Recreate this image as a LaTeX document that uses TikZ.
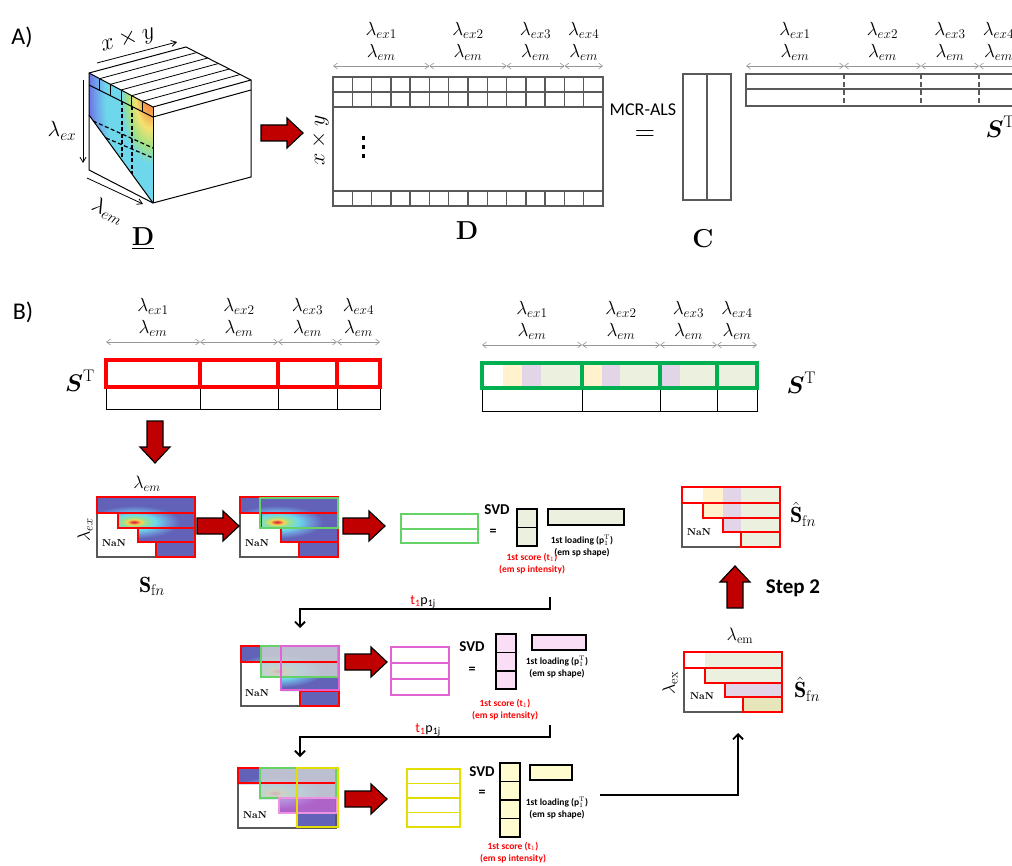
\RequirePackage{fix-cm}
\documentclass[tikz,border=0pt]{standalone}
\usepackage{amsmath}
\usepackage{fontspec}
\newfontfamily\calibri{Carlito}
\usetikzlibrary{arrows.meta, calc}

\definecolor{arrowred}{RGB}{192,0,0}
\definecolor{matgray}{RGB}{89,89,89}
\definecolor{dimgray}{RGB}{150,150,150}
\definecolor{specblue}{RGB}{98,98,184}
\definecolor{fnred}{RGB}{255,0,0}
\definecolor{fngreen}{RGB}{100,210,100}
\definecolor{stgreen}{RGB}{0,176,80}
\definecolor{fnmagenta}{RGB}{226,100,212}
\definecolor{fnyellow}{RGB}{228,222,0}
\definecolor{lgreen}{RGB}{235,241,222}
\definecolor{lyellow}{RGB}{255,242,204}
\definecolor{lpurple}{RGB}{225,213,231}
\definecolor{lpink}{RGB}{250,222,245}
\definecolor{lcream}{RGB}{255,252,208}
\definecolor{lolive}{RGB}{230,230,186}
\definecolor{veilgray}{RGB}{204,208,212}
% heat map colours
\definecolor{heatcore}{RGB}{200,40,40}
\definecolor{heatred}{RGB}{235,90,70}
\definecolor{heatyellow}{RGB}{245,215,80}
\definecolor{heatgreen}{RGB}{150,225,150}
\definecolor{heatcyan}{RGB}{110,215,235}
\definecolor{heatlblue}{RGB}{110,150,215}
\definecolor{cmorange}{RGB}{245,150,70}
\definecolor{cmyellow}{RGB}{245,225,110}
\definecolor{cmgreen}{RGB}{165,225,130}
\definecolor{cmcyan}{RGB}{110,215,235}
\definecolor{cmlblue}{RGB}{110,160,235}
\definecolor{cmblue}{RGB}{110,110,230}

% the inner 25bp of a radial shading fills the shaded path
\pgfdeclareradialshading{heatspot}{\pgfpoint{0bp}{0bp}}{%
  color(0bp)=(heatcore); color(1.5bp)=(heatred); color(3.5bp)=(heatyellow);
  color(6bp)=(heatgreen); color(11bp)=(heatcyan); color(17bp)=(heatlblue);
  color(23bp)=(specblue); color(50bp)=(specblue)}
\pgfdeclareradialshading{cubemap}{\pgfpoint{0bp}{0bp}}{%
  color(0bp)=(cmorange); color(3bp)=(cmorange); color(6bp)=(cmyellow);
  color(9bp)=(cmgreen); color(12bp)=(cmcyan); color(18bp)=(cmcyan);
  color(22bp)=(cmlblue); color(25bp)=(cmblue); color(50bp)=(cmblue)}

\begin{document}
\begin{tikzpicture}[x=1pt, y=-1pt, font=\calibri,
    lam/.style={font=\fontsize{19}{22}\selectfont, align=center, inner sep=1pt, anchor=south},
    dimline/.style={draw=dimgray, line width=0.6pt,
        {Straight Barb[length=4pt,width=6pt]}-{Straight Barb[length=4pt,width=6pt]}},
    matline/.style={draw=matgray, line width=1.5pt},
    cubeline/.style={draw=black, line width=1pt},
    slicedash/.style={draw=black, line width=1.2pt, dash pattern=on 4pt off 2.5pt},
    bigname/.style={font=\rmfamily\bfseries\fontsize{26}{30}\selectfont},
    mathname/.style={font=\fontsize{24}{28}\selectfont},
    panel/.style={font=\calibri\fontsize{24}{28}\selectfont},
    fnrow/.style={draw=fnred, line width=1.5pt},
    fnbox/.style={draw=matgray, line width=1.2pt},
    nan/.style={font=\rmfamily\bfseries\fontsize{10}{12}\selectfont},
    svdtxt/.style={font=\calibri\bfseries\fontsize{15}{17}\selectfont},
    eqtxt/.style={font=\calibri\bfseries\fontsize{14}{16}\selectfont},
    smalltxt/.style={font=\calibri\bfseries\fontsize{9.5}{12}\selectfont, align=center, inner sep=0pt},
    svdbox/.style={draw=black, line width=1.6pt},
    loopline/.style={draw=black, line width=1.8pt, -{Straight Barb[length=5pt,width=10pt]}},
    tplabel/.style={font=\calibri\fontsize{14}{16}\selectfont, anchor=south, inner sep=1pt},
    blockarrow/.pic={\draw[black, line width=1.2pt, fill=arrowred, line join=miter]
        (-21,-8) -- (5,-8) -- (5,-15) -- (21,0) -- (5,15) -- (5,8) -- (-21,8) -- cycle;}
]

\fill[white] (0,0) rectangle (1012,866);
\useasboundingbox (0,0) rectangle (1012,866);

% === A) DATA CUBE ===
\node[panel] (pa) at (22,37) {A)};

\coordinate (cA) at (89,73);
\coordinate (cB) at (186,47);
\coordinate (cC) at (251,80);
\coordinate (cE) at (153,107);
\coordinate (cF) at (153,203);
\coordinate (cG) at (251,177);
\coordinate (cH) at (89,170);
\coordinate (cS) at (89,115);
\coordinate (cA2) at (89,85);
\coordinate (cE2) at (153,117);
\coordinate (cC2) at (251,90);

% colour map on the front slice
\begin{scope}
  \clip (cA) -- (cE) -- (cF) -- (cS) -- cycle;
  \shade[shading=cubemap] (88,-58) rectangle (212,242);
\end{scope}

\draw[cubeline] (cA) -- (cB) -- (cC) -- (cG) -- (cF) -- (cH) -- cycle;
\draw[cubeline] (cA) -- (cE) -- (cC);
\draw[cubeline] (cE) -- (cF);
\draw[cubeline] (cS) -- (cF);
\draw[cubeline] (cA2) -- (cE2) -- (cC2);
\foreach \t in {0.1667,0.3333,0.5,0.6667,0.8333}{
  \draw[black, line width=0.8pt] ($(cA)!\t!(cE)$) -- ($(cB)!\t!(cC)$);
  \draw[black, line width=0.8pt] ($(cA)!\t!(cE)$) -- ($(cA2)!\t!(cE2)$);
}

% slices through the cube
\draw[slicedash] (122,101.5) -- (122,160);
\draw[slicedash] (132,106.5) -- (132,174);
\draw[slicedash] (93,121) -- (153,148);
\draw[slicedash] (106,138) -- (153,158);

\draw[black, line width=0.8pt, -{Straight Barb[length=5pt,width=6pt]}] (97,63) -- (177,42);
\draw[black, line width=0.8pt, -{Straight Barb[length=5pt,width=6pt]}] (83,80) -- (83,163);
\draw[black, line width=0.8pt, -{Straight Barb[length=5pt,width=6pt]}] (87,178) -- (143,204);
\node[rotate=15, font=\fontsize{24}{26}\selectfont] (cxy) at (128,40) {$x\times y$};
\node[font=\fontsize{22}{24}\selectfont] (cex) at (62,131) {$\lambda_{ex}$};
\node[rotate=-25, inner sep=0pt, font=\fontsize{22}{24}\selectfont] (cem) at (108,211) {$\lambda_{em}$};
\node[bigname] (cubename) at (143,239) {\underline{D}};

\pic at (282,133) {blockarrow};

% === A) UNFOLDED MATRIX ===
\draw[matline] (333,77) rectangle (603,206);
\draw[matline] (333,92) -- (603,92);
\draw[matline] (333,107) -- (603,107);
\draw[matline] (333,191) -- (603,191);
\foreach \i in {1,...,13}{
  \draw[matline] (333+\i*19.286,77) -- (333+\i*19.286,107);
  \draw[matline] (333+\i*19.286,191) -- (333+\i*19.286,206);
}
\foreach \n/\xa/\xb in {1/333/429.4, 2/429.4/506.6, 3/506.6/564.5, 4/564.5/603}{
  \draw[dimline] (\xa,66) -- (\xb,66);
  \node[lam] (dlab\n) at ({(\xa+\xb)/2},62) {$\lambda_{ex\n}$\\$\lambda_{em}$};
}
\node[rotate=90, font=\fontsize{22}{24}\selectfont] (dxy) at (320,140) {$x\times y$};
% skipped rows
\foreach \yd in {138,147,156}
  \fill[black] (361.5,\yd-1.6) rectangle (364.5,\yd+1.6);
\node[bigname] (dname) at (467,231) {D};

\node[font=\calibri\fontsize{18}{20}\selectfont] (mcr) at (643,110) {MCR-ALS};
\node[font=\fontsize{28}{30}\selectfont] (equal) at (645,136) {$=$};

% === A) C AND S^T ===
\draw[matline] (683,74) rectangle (731,200);
\draw[matline] (707,74) -- (707,200);
\node[bigname] (cname) at (703,239) {C};

\draw[matline] (746,74) rectangle (1018,106);
\draw[matline] (746,89) -- (1018,89);
\foreach \xd in {844,921,979}
  \draw[matgray, line width=1.5pt, dash pattern=on 5pt off 3pt] (\xd,74) -- (\xd,106);
\foreach \n/\xa/\xb in {1/746/844, 2/844/921, 3/921/979, 4/979/1018}{
  \draw[dimline] (\xa,66) -- (\xb,66);
  \node[lam] (slab\n) at ({(\xa+\xb)/2},62) {$\lambda_{ex\n}$\\$\lambda_{em}$};
}
\node[mathname, anchor=west] (sta) at (982,127) {$\boldsymbol{S}^{\mathrm{T}}$};

% === B) S^T WITH FIRST ROW ===
\node[panel] (pb) at (23,312) {B)};

\foreach \n/\xa/\xb in {1/106/200, 2/200/278, 3/278/337, 4/337/380}{
  \draw[dimline] (\xa,342) -- (\xb,342);
  \node[lam] (blab\n) at ({(\xa+\xb)/2},338) {$\lambda_{ex\n}$\\$\lambda_{em}$};
}
\draw[black, line width=1pt] (106,387) rectangle (380,410);
\foreach \xd in {200,278,337}
  \draw[black, line width=1pt] (\xd,387) -- (\xd,410);
\draw[fnred, line width=3.5pt] (106,360) rectangle (380,387);
\foreach \xd in {200,278,337}
  \draw[fnred, line width=3.5pt] (\xd,360) -- (\xd,387);
\node[mathname] (stb) at (80,381) {$\boldsymbol{S}^{\mathrm{T}}$};

\pic[rotate=-90] at (155,442) {blockarrow};

% === B) RECONSTRUCTED S^T ===
\foreach \n/\xa/\xb in {1/482/582, 2/582/660, 3/660/717, 4/717/757}{
  \draw[dimline] (\xa,345) -- (\xb,345);
  \node[lam] (clab\n) at ({(\xa+\xb)/2},341) {$\lambda_{ex\n}$\\$\lambda_{em}$};
}
\foreach \xa/\xb/\c in {503/522/lyellow, 522/541/lpurple, 541/582/lgreen,
    582/602/lyellow, 602/620/lpurple, 620/660/lgreen,
    660/680/lpurple, 680/717/lgreen, 717/757/lgreen}
  \fill[\c] (\xa,363) rectangle (\xb,388);
\draw[black, line width=1pt] (482,388) rectangle (757,412);
\foreach \xd in {582,660,717}
  \draw[black, line width=1pt] (\xd,388) -- (\xd,412);
\draw[stgreen, line width=3.5pt] (482,363) rectangle (757,388);
\foreach \xd in {582,660,717}
  \draw[stgreen, line width=3.5pt] (\xd,363) -- (\xd,388);
\node[mathname, anchor=west] (stc) at (783,383) {$\boldsymbol{S}^{\mathrm{T}}$};

% === B) FOLDED SPECTRA (heat maps) ===
\foreach \ox/\oy in {97/497, 240/497, 241/646, 238/768}{
  \begin{scope}[shift={(\ox,\oy)}]
    \fill[white] (0,0) rectangle (98,60);
    \begin{scope}
      \clip (0,0) -- (98,0) -- (98,60) -- (59,60) -- (59,45) -- (41,45) -- (41,31)
        -- (21,31) -- (21,16) -- (0,16) -- cycle;
      \fill[specblue] (0,0) rectangle (98,60);
      \shade[shading=heatspot] (-13,7) rectangle (87,43);
    \end{scope}
    \draw[fnbox] (0,0) rectangle (98,60);
  \end{scope}
}

% first map: all four rows
\begin{scope}[shift={(97,497)}]
  \foreach \xa/\ya/\yb in {0/0/16, 21/16/31, 41/31/45, 59/45/60}
    \draw[fnrow] (\xa,\ya) rectangle (98,\yb);
  \node[nan] (nan1) at (17,46) {NaN};
\end{scope}
\node[font=\fontsize{18}{20}\selectfont] (fnem) at (147,484) {$\lambda_{em}$};
\node[rotate=90, font=\fontsize{18}{20}\selectfont] (fnex) at (85,530) {$\lambda_{ex}$};
\node[font=\fontsize{22}{24}\selectfont] (sfn) at (152,586) {$\mathbf{S}_{\mathrm{f}n}$};

\pic at (218,526) {blockarrow};

% second map: first two rows picked
\begin{scope}[shift={(240,497)}]
  \foreach \xa/\ya/\yb in {0/0/16, 21/16/31, 41/31/45, 59/45/60}
    \draw[fnrow] (\xa,\ya) rectangle (98,\yb);
  \draw[fngreen, line width=1.8pt] (20,1) rectangle (98,31);
  \node[nan] (nan2) at (17,46) {NaN};
\end{scope}

\pic at (364,526) {blockarrow};

% === B) SVD, TWO ROWS ===
\draw[fngreen, line width=1.8pt] (401,514) rectangle (478,543);
\draw[fngreen, line width=1.8pt] (401,529) -- (478,529);
\node[svdtxt] (svd1) at (497,510) {SVD};
\node[eqtxt] (eq1) at (493,532) {=};
\draw[svdbox, fill=lgreen] (517,509) rectangle (537,546);
\draw[svdbox] (517,527.5) -- (537,527.5);
\draw[svdbox, fill=lgreen] (548,509) rectangle (624,525);
\node[smalltxt] (load1) at (582,546) {1st loading (p$_1^{\mathrm{T}}$)\\(em sp shape)};
\node[smalltxt, text=fnred] (score1) at (532,564) {1st score (t$_1$)\\(em sp intensity)};

\coordinate (back1) at (550,597);
\coordinate (in2) at (300,628);
\draw[loopline] (back1) -- ++(0,12) -| (in2);
\node[tplabel] (tp1) at (423,609) {\textcolor{fnred}{t\textsubscript{1}}p\textsubscript{1j}};

% === B) SECOND PASS ===
\begin{scope}[shift={(241,646)}]
  \fill[veilgray, fill opacity=0.85] (20,0) rectangle (98,31);
  \draw[fnrow] (0,0) rectangle (98,16);
  \draw[fnrow] (59,45) rectangle (98,60);
  \draw[fngreen, line width=1.8pt] (20,0) rectangle (97,31);
  \draw[fnmagenta, line width=1.8pt] (40,0) rectangle (98,44);
  \node[nan] (nan3) at (16,47) {NaN};
\end{scope}

\pic at (366,662) {blockarrow};

\draw[fnmagenta, line width=1.8pt] (391,647) rectangle (449,695);
\foreach \yd in {663,679}
  \draw[fnmagenta, line width=1.8pt] (391,\yd) -- (449,\yd);
\node[svdtxt] (svd2) at (472,647) {SVD};
\node[eqtxt] (eq2) at (472,670) {=};
\draw[svdbox, fill=lpink] (496,634) rectangle (516,689);
\foreach \yd in {652.3,670.7}
  \draw[svdbox] (496,\yd) -- (516,\yd);
\draw[svdbox, fill=lpink] (532,635) rectangle (586,650);
\node[smalltxt] (load2) at (557,667) {1st loading (p$_1^{\mathrm{T}}$)\\(em sp shape)};
\node[smalltxt, text=fnred] (score2) at (505,710) {1st score (t$_1$)\\(em sp intensity)};

\coordinate (back2) at (550,725);
\coordinate (in3) at (300,757);
\draw[loopline] (back2) -- ++(0,12) -| (in3);
\node[tplabel] (tp2) at (428,737) {\textcolor{fnred}{t\textsubscript{1}}p\textsubscript{1j}};

% === B) THIRD PASS ===
\begin{scope}[shift={(238,768)}]
  \fill[veilgray, fill opacity=0.85] (22,0) rectangle (98,30);
  \fill[fnmagenta, fill opacity=0.6] (41,30) rectangle (99,45);
  \draw[fnrow] (0,0) rectangle (98,15);
  \draw[fngreen, line width=1.8pt] (22,0) rectangle (98,30);
  \draw[fnmagenta!70, line width=1.8pt] (41,30) rectangle (99,45);
  \draw[fnyellow, line width=2.2pt] (59,0) rectangle (100,59);
  \node[nan] (nan4) at (17,47) {NaN};
\end{scope}

\pic at (366,799) {blockarrow};

\draw[fnyellow, line width=1.8pt] (407,769) rectangle (460,827);
\foreach \yd in {783.5,798,812.5}
  \draw[fnyellow, line width=1.8pt] (407,\yd) -- (460,\yd);
\node[svdtxt] (svd3) at (482,772) {SVD};
\node[eqtxt] (eq3) at (482,793) {=};
\draw[svdbox, fill=lcream] (500,763) rectangle (520,837);
\foreach \yd in {781.5,800,818.5}
  \draw[svdbox] (500,\yd) -- (520,\yd);
\draw[svdbox, fill=lcream] (530,765) rectangle (572,780);
\node[smalltxt] (load3) at (557,808) {1st loading (p$_1^{\mathrm{T}}$)\\(em sp shape)};
\node[smalltxt, text=fnred] (score3) at (513,853) {1st score (t$_1$)\\(em sp intensity)};

\coordinate (out3) at (600,795);
\coordinate (hatin) at (738,733);
\draw[loopline] (out3) -| (hatin);

% === B) REBUILT SPECTRA ===
\begin{scope}[shift={(684,652)}]
  \fill[white] (0,0) rectangle (98,60);
  \fill[lgreen] (21,0) rectangle (98,31);
  \fill[lpurple] (41,31) rectangle (98,45);
  \fill[lolive] (59,45) rectangle (98,60);
  \draw[fnbox] (0,0) rectangle (98,60);
  \foreach \xa/\ya/\yb in {0/0/16, 21/16/31, 41/31/45, 59/45/60}
    \draw[fnrow] (\xa,\ya) rectangle (98,\yb);
  \node[nan] (nan5) at (18,44) {NaN};
\end{scope}
\node[font=\fontsize{18}{20}\selectfont] (hatem) at (740,636) {$\lambda_{\mathrm{em}}$};
\node[rotate=90, font=\fontsize{18}{20}\selectfont] (hatex) at (670,683) {$\lambda_{\mathrm{ex}}$};
\node[font=\fontsize{22}{24}\selectfont] (shat2) at (807,689) {$\hat{\mathbf{S}}_{\mathrm{f}n}$};

\pic[rotate=90] at (735,587) {blockarrow};
\node[font=\calibri\bfseries\fontsize{21}{24}\selectfont] (step2) at (793,588) {Step 2};

\begin{scope}[shift={(682,487)}]
  \fill[white] (0,0) rectangle (98,60);
  \fill[lyellow] (21,0) rectangle (41,31);
  \fill[lpurple] (41,0) rectangle (59,45);
  \fill[lgreen] (59,0) rectangle (98,60);
  \draw[fnbox] (0,0) rectangle (98,60);
  \foreach \xa/\ya/\yb in {0/0/16, 21/16/31, 41/31/45, 59/45/60}
    \draw[fnrow] (\xa,\ya) rectangle (98,\yb);
  \node[nan] (nan6) at (17,45) {NaN};
\end{scope}
\node[font=\fontsize{22}{24}\selectfont] (shat1) at (803,514) {$\hat{\mathbf{S}}_{\mathrm{f}n}$};

\end{tikzpicture}
\end{document}
